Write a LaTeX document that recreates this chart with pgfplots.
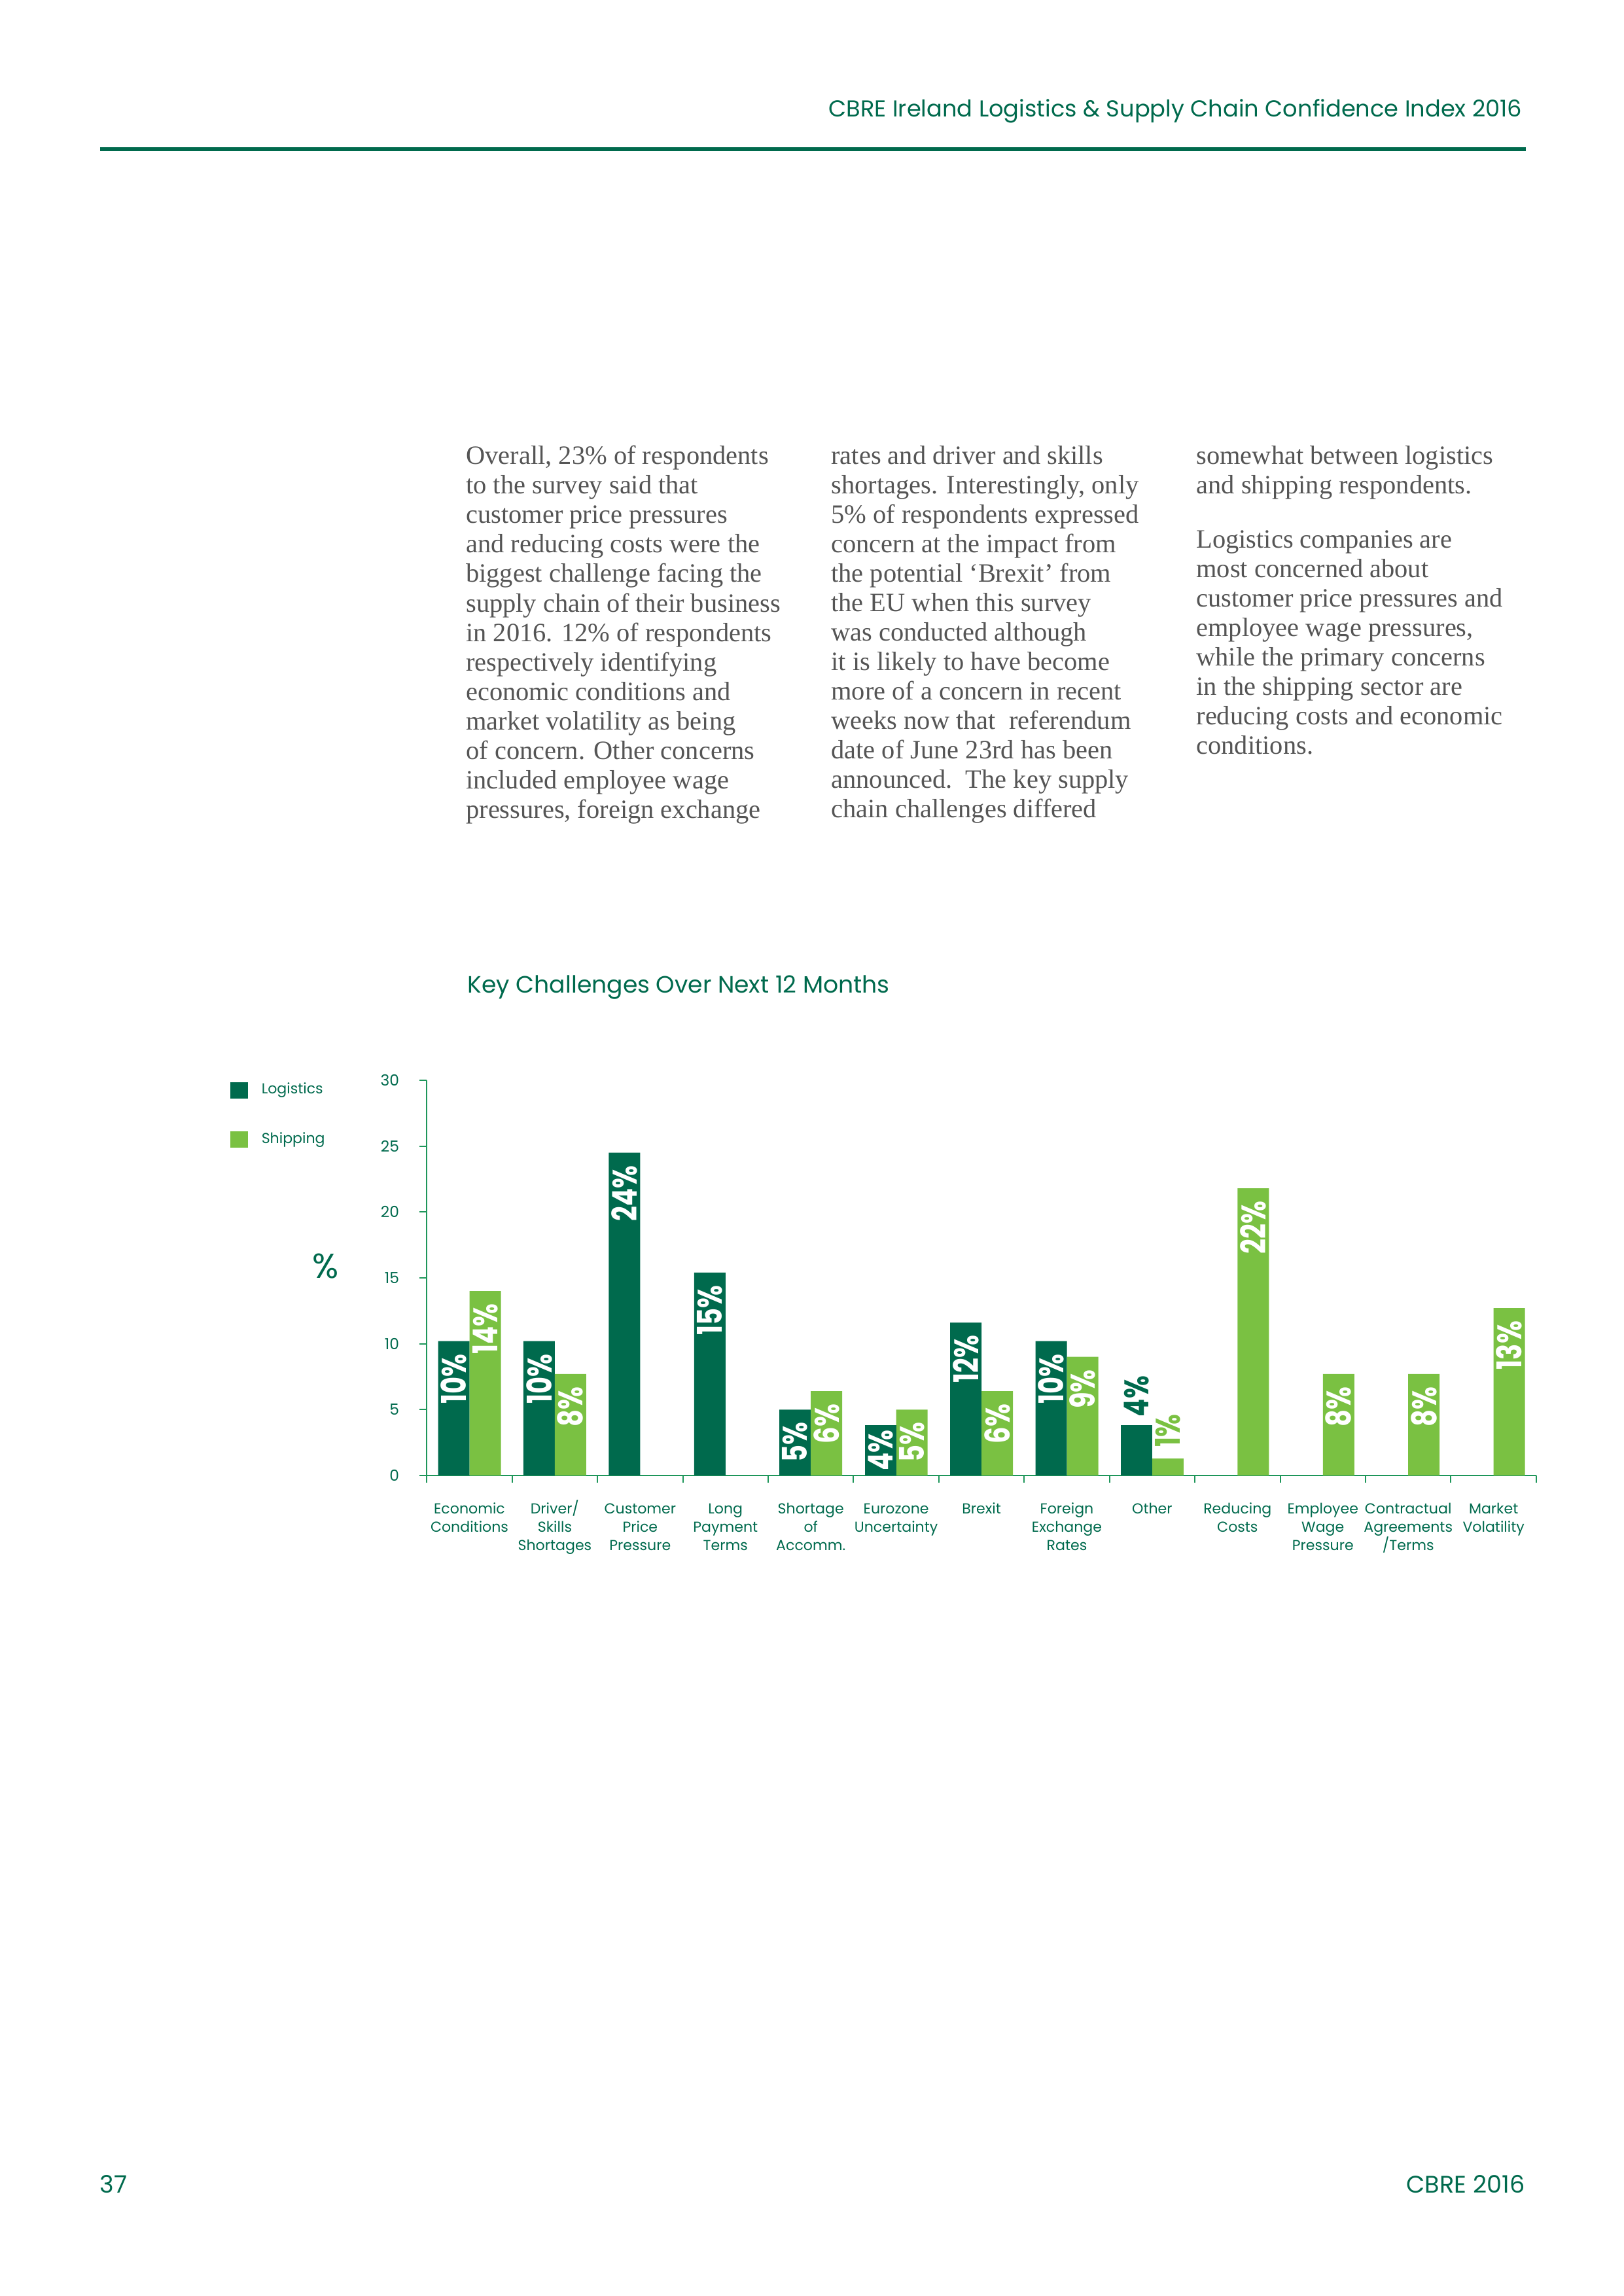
\documentclass[border=0pt]{standalone}
\usepackage{fontspec}
\setmainfont{Poppins}
\newfontfamily\bodyfont{Liberation Serif}
\newfontfamily\condfont{Poppins}[FakeStretch=0.77]
\usepackage{pgfplots}
\pgfplotsset{compat=1.18}

\definecolor{dgreen}{RGB}{0,106,77}
\definecolor{lgreen}{RGB}{122,193,66}
\definecolor{agreen}{RGB}{30,150,90}
\definecolor{bodygray}{RGB}{85,85,85}

\newcommand{\catfont}{\fontsize{5.3}{6.8}\selectfont}
\newcommand{\labfont}{\condfont\fontsize{12.5}{13}\selectfont\bfseries}
% equal first-line height for the category labels
\newcommand{\st}{\rule{0pt}{5.5pt}}

\begin{document}
\begin{tikzpicture}
  % page frame (A4)
  \path[use as bounding box] (0pt,0pt) rectangle (595.28pt,-841.89pt);

  % header
  \node[anchor=base east, inner sep=0pt, text=dgreen, font=\fontsize{8.45}{10}\selectfont]
    at (558.3pt,-42.9pt) {CBRE Ireland Logistics \& Supply Chain Confidence Index 2016};
  \draw[dgreen, line width=1.4pt] (36.7pt,-54.7pt) -- (559.5pt,-54.7pt);

  % body text
  \begin{scope}[every node/.style={anchor=north west, inner sep=0pt, align=left,
      text=bodygray, font=\bodyfont\fontsize{9.7}{10.8}\selectfont}]
    \node at (170.7pt,-163.3pt) {Overall, 23\% of respondents\\to the survey said that\\customer price pressures\\and reducing costs were the\\biggest challenge facing the\\supply chain of their business\\in 2016. 12\% of respondents\\respectively identifying\\economic conditions and\\market volatility as being\\of concern. Other concerns\\included employee wage\\pressures, foreign exchange};
    \node at (304.6pt,-163.3pt) {rates and driver and skills\\shortages. Interestingly, only\\5\% of respondents expressed\\concern at the impact from\\the potential ‘Brexit’ from\\the EU when this survey\\was conducted although\\it is likely to have become\\more of a concern in recent\\weeks now that\ \ referendum\\date of June 23rd has been\\announced.\ \ The key supply\\chain challenges differed};
    \node at (438.5pt,-163.3pt) {somewhat between logistics\\and shipping respondents.\\[9.1pt]Logistics companies are\\most concerned about\\customer price pressures and\\employee wage pressures,\\while the primary concerns\\in the shipping sector are\\reducing costs and economic\\conditions.};
  \end{scope}

  % chart title
  \node[anchor=base west, inner sep=0pt, text=dgreen, font=\fontsize{8.67}{10}\selectfont]
    at (171.3pt,-364pt) {Key Challenges Over Next 12 Months};

  \begin{axis}[
      at={(156.5pt,-541pt)}, anchor=south west,
      scale only axis, width=406.8pt, height=144.9pt,
      xmin=-0.5, xmax=12.5, ymin=0, ymax=30,
      axis lines=left,
      axis line style={agreen, line width=0.5pt, -},
      tick style={agreen, line width=0.5pt},
      tick align=outside,
      major tick length=2.6pt,
      ytick={0,5,...,30},
      yticklabel style={font=\fontsize{5.6}{6}\selectfont, text=dgreen, xshift=-4pt,
        /pgf/number format/assume math mode=true},
      xtick={-0.5,0.5,...,12.5},
      xticklabels={},
      extra x ticks={0,1,...,12},
      extra x tick labels={{\st Economic\\Conditions},{\st Driver/\\Skills\\Shortages},{\st Customer\\Price\\Pressure},{\st Long\\Payment\\Terms},{\st Shortage\\of\\Accomm.},{\st Eurozone\\Uncertainty},{\st Brexit},{\st Foreign\\Exchange\\Rates},{\st Other},{\st Reducing\\Costs},{\st Employee\\Wage\\Pressure},{\st Contractual\\Agreements\\/Terms},{\st Market\\Volatility}},
      extra x tick style={major tick length=0pt,
        xticklabel style={font=\catfont, text=dgreen, align=center, inner sep=0pt, yshift=-8.3pt}},
      ylabel={\%},
      every axis y label/.style={at={(axis description cs:-0.0914,0.530)}, anchor=center,
        font=\fontsize{12.7}{13}\selectfont, text=dgreen},
      legend style={at={(-0.1777,0.997)}, anchor=north west, draw=none, fill=none,
        font=\catfont, text=dgreen, row sep=12pt, inner sep=0pt,
        nodes={inner sep=0pt},
        /tikz/every odd column/.append style={column sep=5.1pt}},
      legend cell align=left,
      legend image code/.code={\draw[#1, draw=none] (0pt,-3.05pt) rectangle (6.4pt,3.05pt);},
      point meta=explicit symbolic,
      nodes near coords={\pgfplotspointmeta\%},
    ]
    % Logistics
    \addplot[ybar, fill=dgreen, draw=none, bar width=0.368, bar shift=-0.184,
      nodes near coords style={xshift=-5.76pt, rotate=90, anchor=east, font=\labfont,
        text=white, inner sep=4.5pt}]
      coordinates {(0,10.2)[10] (1,10.2)[10] (2,24.5)[24] (3,15.4)[15] (4,5.0)[5]
                   (6,11.6)[12] (7,10.2)[10]};
    \addlegendentry{Logistics}
    % Shipping
    \addplot[ybar, fill=lgreen, draw=none, bar width=0.368, bar shift=0.184,
      nodes near coords style={xshift=5.76pt, rotate=90, anchor=east, font=\labfont,
        text=white, inner sep=4.5pt}]
      coordinates {(0,14.0)[14] (1,7.7)[8] (4,6.4)[6] (5,5.0)[5] (6,6.4)[6]
                   (7,9.0)[9] (9,21.8)[22] (10,7.7)[8] (11,7.7)[8] (12,12.7)[13]};
    \addlegendentry{Shipping}
    % short Eurozone bar: label tucked close to the top
    \addplot[ybar, fill=dgreen, draw=none, bar width=0.368, bar shift=-0.184, forget plot,
      nodes near coords style={xshift=-5.76pt, rotate=90, anchor=east, font=\labfont,
        text=white, inner sep=1.5pt}]
      coordinates {(5,3.8)[4]};
    % "Other": labels sit above the bars
    \addplot[ybar, fill=dgreen, draw=none, bar width=0.368, bar shift=-0.184, forget plot,
      nodes near coords style={xshift=-5.76pt, rotate=90, anchor=west, font=\labfont,
        text=dgreen, inner sep=3pt}]
      coordinates {(8,3.8)[4]};
    \addplot[ybar, fill=lgreen, draw=none, bar width=0.368, bar shift=0.184, forget plot,
      nodes near coords style={xshift=5.76pt, rotate=90, anchor=west, font=\labfont,
        text=lgreen, inner sep=4pt}]
      coordinates {(8,1.3)[1]};
  \end{axis}

  % footer
  \node[anchor=base west, inner sep=0pt, text=dgreen, font=\fontsize{8.8}{10}\selectfont]
    at (36.5pt,-804.2pt) {37};
  \node[anchor=base east, inner sep=0pt, text=dgreen, font=\fontsize{8.8}{10}\selectfont]
    at (559.3pt,-804.2pt) {CBRE 2016};
\end{tikzpicture}
\end{document}
